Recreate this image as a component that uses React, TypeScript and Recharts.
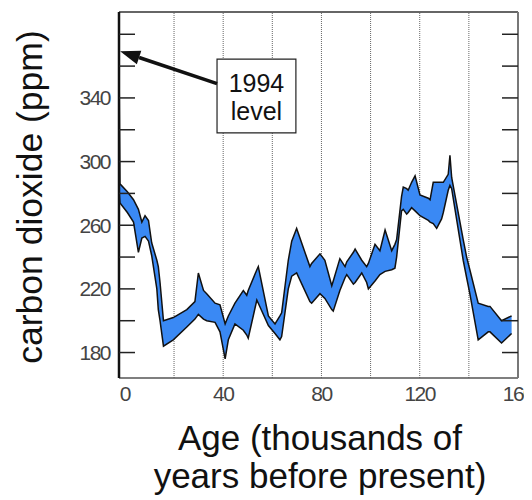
import { AreaChart, Area, XAxis, YAxis, ReferenceLine, ReferenceArea } from 'recharts';

// ages in thousands of years before present
const ages = [
  -2.3, -2.0, 1, 3.5, 5.5, 6.9, 8.2, 9.6, 10.9, 13, 13.6, 14.3, 15.7, 19.7, 25.2, 28.5, 29.9, 32, 33.3,
  36.7, 38.7, 40.8, 42.1, 44.8, 48.2, 49.6, 50.2, 53.7, 54.3, 58.4, 61.1, 63.1, 63.8, 66.5, 67.9, 69.9,
  75.3, 76, 79.4, 81.4, 84.2, 84.8, 87.5, 89.6, 90.3, 93, 93.7, 96.4, 98.4, 99.1, 101.8, 103.8, 105.9,
  108.6, 109.9, 110.6, 112.6, 113.3, 114.7, 115.3, 116.7, 118.1, 120.1, 123.5, 124.2, 125.5, 126.9,
  128.9, 129.6, 131.6, 132.3, 133, 137.7, 139.1, 140.4, 143.8, 147.9, 148.6, 153.3, 157.4,
];
const lows = [
  280, 274, 268, 262, 243, 252, 253, 250, 241, 220, 207, 200, 184, 188, 196, 201, 204, 201, 200,
  199, 193, 176, 188, 198, 194, 191, 189, 213, 211, 197, 192, 188, 190, 220, 228, 230,
  212, 211, 217, 214, 207, 206, 219, 227, 229, 223, 224, 230, 224, 220, 225, 229, 231,
  232, 233, 240, 269, 270, 267, 268, 271, 269, 266, 263, 262, 261, 258,
  264, 268, 282, 285, 283, 238, 227, 217, 188, 193, 193, 186, 192,
];
const highs = [
  345, 286, 281, 276, 270, 262, 266, 263, 249, 238, 234, 224, 200, 202, 207, 212, 230, 219, 217,
  211, 210, 198, 203, 211, 219, 216, 219, 232, 234, 203, 198, 203, 205, 238, 250, 258,
  234, 236, 242, 238, 222, 225, 239, 234, 237, 243, 245, 238, 234, 236, 248, 244, 257,
  244, 248, 251, 278, 284, 283, 282, 287, 291, 279, 277, 276, 287, 287,
  287, 287, 292, 304, 290, 251, 240, 232, 211, 209, 209, 200, 203,
];

const xTicks = [0, 40, 80, 120, 160];
const gridAges = [20, 40, 60, 80, 100, 120, 140];
const yTicks = [180, 200, 220, 240, 260, 280, 300, 320, 340, 360, 380];
const yLabeled = [180, 220, 260, 300, 340];

const X_MIN = -2.4;
const X_MAX = 160;
const Y_MIN = 164;
const Y_MAX = 394;

const data = ages.map((age, i) => ({ age, range: [lows[i], highs[i]] }));

const FONT = '"Liberation Sans", Arial, Helvetica, sans-serif';
const BLUE = '#3a89f4';

function YTitle({ viewBox }: any) {
  const x = viewBox.x + 34;
  const y = viewBox.y + viewBox.height / 2 + 2;
  return (
    <text x={x} y={y} transform={`rotate(-90 ${x} ${y})`} textAnchor="middle" fontSize={35.5} fontFamily={FONT} fill="#111">
      carbon dioxide (ppm)
    </text>
  );
}

function XTitle({ viewBox }: any) {
  const x = viewBox.x + viewBox.width / 2 + 1.5;
  return (
    <text textAnchor="middle" fontSize={35} fontFamily={FONT} fill="#111">
      <tspan x={x} y={viewBox.y + 72}>Age (thousands of</tspan>
      <tspan x={x} y={viewBox.y + 110}>years before present)</tspan>
    </text>
  );
}

function BoxText({ viewBox }: any) {
  const cx = viewBox.x + viewBox.width / 2;
  return (
    <text textAnchor="middle" fontSize={25} fontFamily={FONT} fill="#111">
      <tspan x={cx} y={viewBox.y + 33}>1994</tspan>
      <tspan x={cx} y={viewBox.y + 61}>level</tspan>
    </text>
  );
}

function Arrow(props: any) {
  const { x1, y1, x2, y2 } = props;
  const dx = x2 - x1;
  const dy = y2 - y1;
  const len = Math.sqrt(dx * dx + dy * dy);
  const ux = dx / len;
  const uy = dy / len;
  const hl = 20;
  const hw = 7;
  const bx = x2 - ux * hl;
  const by = y2 - uy * hl;
  const pts = `${x2},${y2} ${bx - uy * hw},${by + ux * hw} ${bx + uy * hw},${by - ux * hw}`;
  return (
    <g>
      <line x1={x1} y1={y1} x2={bx} y2={by} stroke="#111" strokeWidth={3.5} />
      <polygon points={pts} fill="#111" />
    </g>
  );
}

export default function App() {
  return (
    <AreaChart width={524} height={490} data={data} margin={{ top: 4, right: 0, bottom: 0, left: 0 }}>
      <XAxis
        dataKey="age"
        type="number"
        domain={[X_MIN, X_MAX]}
        ticks={xTicks}
        allowDataOverflow
        height={120}
        tickLine={false}
        tickSize={0}
        tickMargin={8}
        axisLine={{ stroke: '#555', strokeWidth: 1.5 }}
        tick={{ fontSize: 21, fill: '#444', fontFamily: FONT, letterSpacing: -1.5 }}
        label={<XTitle />}
      />
      <YAxis
        type="number"
        domain={[Y_MIN, Y_MAX]}
        ticks={yTicks}
        allowDataOverflow
        width={111}
        tickSize={-16}
        tickMargin={25}
        tickLine={{ stroke: '#222', strokeWidth: 1.5 }}
        axisLine={{ stroke: '#111', strokeWidth: 2.5 }}
        tickFormatter={(v: number) => (yLabeled.includes(v) ? String(v) : '')}
        tick={{ fontSize: 21, fill: '#444', fontFamily: FONT, letterSpacing: -1.5 }}
        label={<YTitle />}
      />
      <YAxis
        yAxisId="r"
        orientation="right"
        type="number"
        domain={[Y_MIN, Y_MAX]}
        ticks={yTicks}
        allowDataOverflow
        width={14}
        tickSize={-16}
        tickLine={{ stroke: '#222', strokeWidth: 1.5 }}
        axisLine={{ stroke: '#777', strokeWidth: 2 }}
        tickFormatter={() => ''}
      />
      {gridAges.map((a) => (
        <ReferenceLine key={a} x={a} stroke="#666" strokeDasharray="1 1" zIndex={-10} />
      ))}
      <ReferenceLine y={Y_MAX} stroke="#333" strokeWidth={1.5} />
      <Area
        type="linear"
        dataKey="range"
        stroke="#111"
        strokeWidth={1.5}
        fill={BLUE}
        fillOpacity={1}
        dot={false}
        activeDot={false}
        isAnimationActive={false}
      />
      <ReferenceArea
        x1={37.5}
        x2={69.6}
        y1={318}
        y2={364.4}
        fill="#fff"
        fillOpacity={1}
        stroke="#222"
        strokeWidth={1.2}
        label={<BoxText />}
        zIndex={1000}
      />
      <ReferenceLine
        segment={[{ x: 37.5, y: 349 }, { x: -1.95, y: 369.4 }]}
        shape={<Arrow />}
        ifOverflow="visible"
        zIndex={1000}
      />
    </AreaChart>
  );
}
